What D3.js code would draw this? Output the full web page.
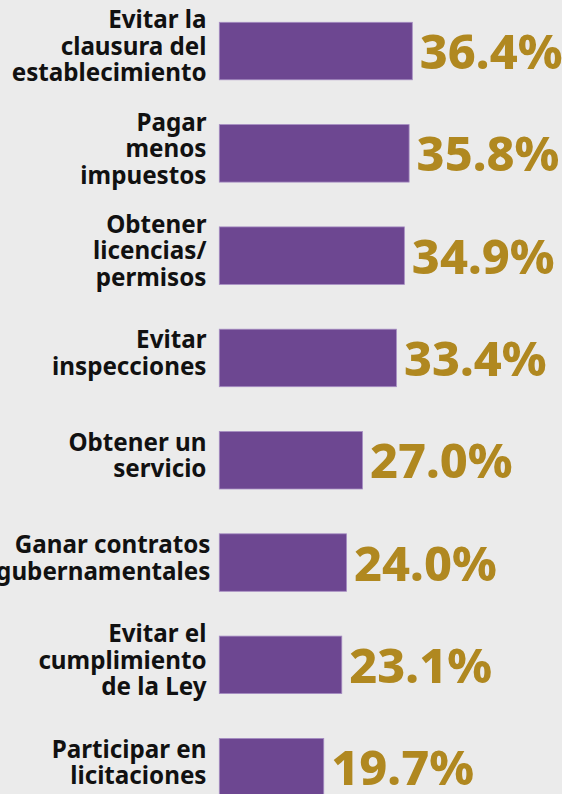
<!DOCTYPE html>
<html>
<head>
<meta charset="utf-8">
<script src="https://cdn.jsdelivr.net/npm/d3@7"></script>
<style>
    html, body { margin: 0; padding: 0; background: #ebebeb; overflow: hidden; }
    svg { display: block; }
</style>
</head>
<body>
<div id="chart"></div>
<script>
var categories = [
    ['Evitar la', 'clausura del', 'establecimiento'],
    ['Pagar', 'menos', 'impuestos'],
    ['Obtener', 'licencias/', 'permisos'],
    ['Evitar', 'inspecciones'],
    ['Obtener un', 'servicio'],
    ['Ganar contratos', 'gubernamentales'],
    ['Evitar el', 'cumplimiento', 'de la Ley'],
    ['Participar en', 'licitaciones']
];
var values = [36.4, 35.8, 34.9, 33.4, 27.0, 24.0, 23.1, 19.7];

(function() {
    var width = 562;
    var height = 794;
    var labelRight = 206.5;
    var lineHeight = 26.6;

    var svg = d3.select('#chart')
        .append('svg')
        .attr('width', width)
        .attr('height', height);

    svg.append('rect')
        .attr('width', width)
        .attr('height', height)
        .attr('fill', '#ebebeb');

    var rows = values.map(function(v, i) { return { value: v, lines: categories[i], i: i }; });

    var x = d3.scaleLinear()
        .domain([0, d3.max(values)])
        .range([219.3, 412.3]);

    var y = d3.scaleBand()
        .domain(d3.range(values.length))
        .range([22.3, 795.9])
        .paddingInner(0.438)
        .paddingOuter(0);

    var row = svg.append('g')
        .selectAll('g.row')
        .data(rows)
        .join('g')
        .attr('class', 'row');

    row.append('rect')
        .attr('x', x(0))
        .attr('y', function(d) { return y(d.i); })
        .attr('width', function(d) { return x(d.value) - x(0); })
        .attr('height', y.bandwidth())
        .attr('fill', '#6d4791')
        .attr('stroke', '#a68dc2')
        .attr('stroke-width', 0.8);

    row.append('text')
        .attr('x', function(d) { return x(d.value) + 7.5; })
        .attr('y', function(d) { return y(d.i) + y.bandwidth() / 2 + 18; })
        .attr('fill', '#b08820')
        .attr('font-family', '"Noto Sans", "Open Sans", sans-serif')
        .attr('font-weight', 800)
        .attr('font-size', '48.5px')
        .text(function(d) { return d.value.toFixed(1) + '%'; });

    var label = row.append('text')
        .attr('text-anchor', 'end')
        .attr('fill', '#111111')
        .attr('font-family', '"Noto Sans", "Open Sans", sans-serif')
        .attr('font-weight', 700)
        .attr('font-size', '24.2px');

    label.selectAll('tspan')
        .data(function(d) {
            var c = y(d.i) + y.bandwidth() / 2;
            var n = d.lines.length;
            return d.lines.map(function(t, k) {
                return { text: t, y: c + (k - (n - 1) / 2) * lineHeight + 3.8 };
            });
        })
        .join('tspan')
        .attr('x', labelRight)
        .attr('y', function(d) { return d.y; })
        .text(function(d) { return d.text; });

    // labels wider than their box get centred on it instead of right-aligned
    label.each(function() {
        var t = d3.select(this);
        var w = d3.max(t.selectAll('tspan').nodes(), function(n) { return n.getComputedTextLength(); });
        if (w > labelRight) {
            t.selectAll('tspan').attr('x', labelRight + (w - labelRight) / 2);
        }
    });
})();
</script>
</body>
</html>
